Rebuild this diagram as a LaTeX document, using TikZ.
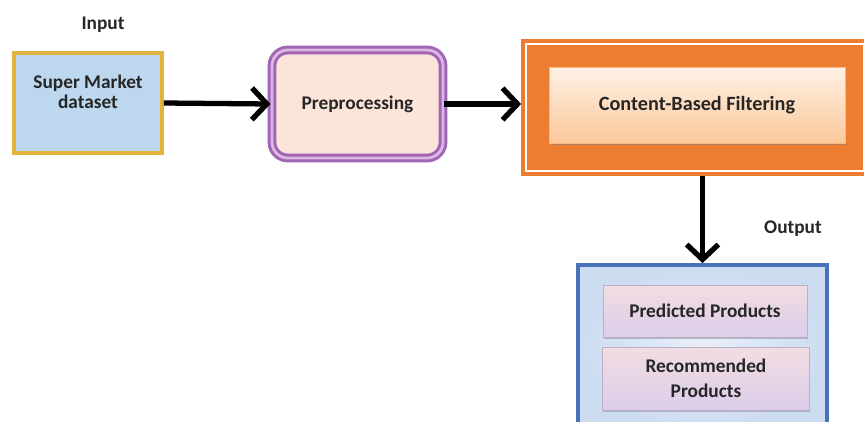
\documentclass[tikz,border=0pt]{standalone}
\usepackage{fontspec}
\setmainfont{Carlito}
\usepackage{tikz}
\usetikzlibrary{arrows.meta,positioning,calc,shadows}
\definecolor{goldline}{HTML}{E3B33E}
\definecolor{skyfill}{HTML}{BDD7EE}
\definecolor{plumline}{HTML}{A264B4}
\definecolor{plumlight}{HTML}{D9B8E2}
\definecolor{peachfill}{HTML}{FCE4D8}
\definecolor{orangeband}{HTML}{ED7D31}
\definecolor{peachtop}{HTML}{FEF1E6}
\definecolor{peachbot}{HTML}{FBC89A}
\definecolor{blueline}{HTML}{4A72B8}
\definecolor{bluefill}{HTML}{CCDCF1}
\definecolor{lavtop}{HTML}{F1DDE2}
\definecolor{lavbot}{HTML}{DCCDEA}
\definecolor{inkgray}{HTML}{262626}
\tikzset{
  inbox/.style={rectangle,draw=goldline,fill=skyfill,line width=2.2pt,
    minimum width=2.96cm,minimum height=2.0cm,align=center,
    font=\fontsize{11}{11.5}\selectfont\bfseries,text=inkgray,inner sep=2pt},
  prebox/.style={rectangle,rounded corners=9pt,draw=plumline,double=plumlight,
    double distance=1.6pt,line width=1.7pt,fill=peachfill,
    minimum width=3.42cm,minimum height=2.16cm,align=center,
    font=\fontsize{11}{13}\selectfont\bfseries,text=inkgray},
  framebox/.style={rectangle,draw=orangeband,fill=orangeband,line width=1pt,
    minimum width=6.92cm,minimum height=2.7cm},
  filterbox/.style={rectangle,top color=peachtop,bottom color=peachbot,
    draw=peachbot!80!orange,line width=0.3pt,
    drop shadow={shadow xshift=0.6pt,shadow yshift=-1.4pt,opacity=0.55},
    minimum width=5.92cm,minimum height=1.52cm,align=center,
    font=\fontsize{11.5}{13}\selectfont\bfseries,text=inkgray},
  outbox/.style={rectangle,draw=blueline,line width=2.2pt,
    inner color=white!55!bluefill,outer color=bluefill,
    minimum width=4.98cm,minimum height=3.3cm},
  prodbox/.style={rectangle,top color=lavtop,bottom color=lavbot,
    draw=lavbot!85!black,line width=0.3pt,
    drop shadow={shadow xshift=0.5pt,shadow yshift=-1.2pt,opacity=0.45},
    align=center,font=\fontsize{11}{14}\selectfont\bfseries,text=inkgray},
  tag/.style={font=\fontsize{11}{13}\selectfont\bfseries,text=inkgray},
  arrow/.style={-{Straight Barb[length=8.5pt,width=18pt]},line width=3pt,draw=black},
}

\begin{document}
\begin{tikzpicture}
  \useasboundingbox (0,0) rectangle (17.28,-8.42);
  % input side
  \node[tag] (intag) at (2.06,-0.50) {Input};
  \node[inbox,text depth=0.45cm] (data) at (1.76,-2.06) {Super Market\\dataset};
  \node[prebox] (prep) at (7.15,-2.08) {Preprocessing};
  % filtering block
  \node[framebox] (frame) at (13.90,-2.15) {};
  \draw[white,line width=1.3pt]
    ($(frame.south west)+(0.1,0.1)$) rectangle ($(frame.north east)+(-0.1,-0.1)$);
  \node[filterbox] (cbf) at (13.94,-2.10) {Content-Based Filtering};
  % output side
  \node[tag] (outtag) at (15.86,-4.58) {Output};
  \node[outbox] (result) at (14.05,-6.95) {};
  \node[prodbox,minimum width=4.08cm,minimum height=1.04cm] (pred) at (14.10,-6.22) {Predicted Products};
  \node[prodbox,minimum width=4.14cm,minimum height=1.26cm] (recom) at (14.12,-7.57) {Recommended\\Products};
  \draw[arrow] (data.east) -- (prep.west);
  \draw[arrow] (prep.east) -- (prep.east -| frame.west);
  \draw[arrow] (result.north |- frame.south) -- (result.north);
\end{tikzpicture}
\end{document}
